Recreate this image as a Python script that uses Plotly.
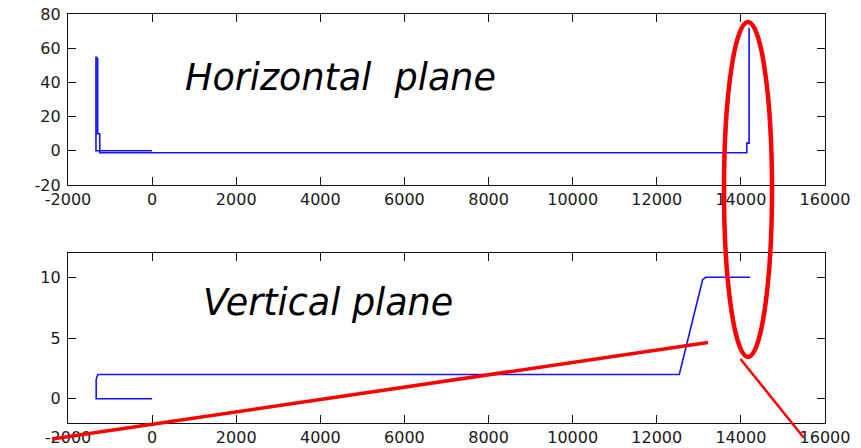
import plotly.graph_objects as go

# Beam position along the line (s in mm) for the two planes
s_horizontal = [0, -1335, -1335, -1295, -1295, -1245, -1245, 14140, 14140, 14195, 14195]
x_horizontal = [0, 0, 55, 54, 10, 10, -1.1, -1.1, 4.5, 4.5, 72]

s_vertical = [0, -1330, -1330, -1290, 12535, 13090, 13165, 14215]
y_vertical = [0, 0, 1.6, 2, 2, 9.8, 10, 10]

x_ticks = [-2000, 0, 2000, 4000, 6000, 8000, 10000, 12000, 14000, 16000]
x_tick_text = ["-2000", "0", "2000", "4000", "6000", "8000", "10000", "12000", "14000", "16000"]
top_y_ticks = [-20, 0, 20, 40, 60, 80]
top_y_text = ["-20", "0", "20", "40", "60", "80"]
bottom_y_ticks = [0, 5, 10]
bottom_y_text = ["0", "5", "10"]

W, H = 861, 448


def px(x):
    return x / W


def py(y):
    return 1 - y / H


tick_font = dict(family="DejaVu Sans", size=16, color="#1a1a1a")
axis_common = dict(
    showgrid=False, zeroline=False, showline=True, linecolor="#111111", linewidth=1.2,
    mirror="ticks", ticks="inside", ticklen=8, tickcolor="#111111", tickwidth=1.2,
    tickfont=tick_font, tickmode="array", automargin=False,
)

fig = go.Figure()
fig.add_trace(go.Scatter(x=s_horizontal, y=x_horizontal, mode="lines",
                         line=dict(color="#1414ff", width=1.6), xaxis="x", yaxis="y",
                         showlegend=False, hoverinfo="skip"))
fig.add_trace(go.Scatter(x=s_vertical, y=y_vertical, mode="lines",
                         line=dict(color="#1414ff", width=1.6), xaxis="x2", yaxis="y2",
                         showlegend=False, hoverinfo="skip"))

fig.update_layout(
    width=W, height=H,
    margin=dict(l=0, r=0, t=0, b=0, autoexpand=False),
    paper_bgcolor="white", plot_bgcolor="white",
    xaxis=dict(domain=[px(68), px(825)], anchor="y", range=[-2000, 16000],
               tickvals=x_ticks, ticktext=x_tick_text, ticklabelstandoff=0, **axis_common),
    yaxis=dict(domain=[py(185), py(14)], anchor="x", range=[-20, 80],
               tickvals=top_y_ticks, ticktext=top_y_text, ticklabelstandoff=3, **axis_common),
    xaxis2=dict(domain=[px(68), px(825)], anchor="y2", range=[-2000, 16000],
                tickvals=x_ticks, ticktext=x_tick_text, ticklabelstandoff=0, **axis_common),
    yaxis2=dict(domain=[py(423), py(253)], anchor="x2", range=[-2, 12],
                tickvals=bottom_y_ticks, ticktext=bottom_y_text, ticklabelstandoff=3, **axis_common),
)

title_font = dict(family="DejaVu Sans", size=36.5, color="black", style="italic")
fig.add_annotation(text="Horizontal  plane", xref="paper", yref="paper",
                   x=px(183), y=py(77), xanchor="left", yanchor="middle",
                   showarrow=False, font=title_font)
fig.add_annotation(text="Vertical plane", xref="paper", yref="paper",
                   x=px(201), y=py(302), xanchor="left", yanchor="middle",
                   showarrow=False, font=title_font)

# Red highlight: ellipse around the end region and connector strokes
fig.add_shape(type="circle", xref="paper", yref="paper",
              x0=px(724), x1=px(772), y0=py(357), y1=py(22),
              line=dict(color="#ff0000", width=4.5))
fig.add_shape(type="line", xref="paper", yref="paper",
              x0=px(52), y0=py(439), x1=px(708), y1=py(342.5),
              line=dict(color="#ff0000", width=3.5))
fig.add_shape(type="line", xref="paper", yref="paper",
              x0=px(740.5), y0=py(359), x1=px(804), y1=py(438),
              line=dict(color="#ff0000", width=2.5))

fig.write_html("out.html")
